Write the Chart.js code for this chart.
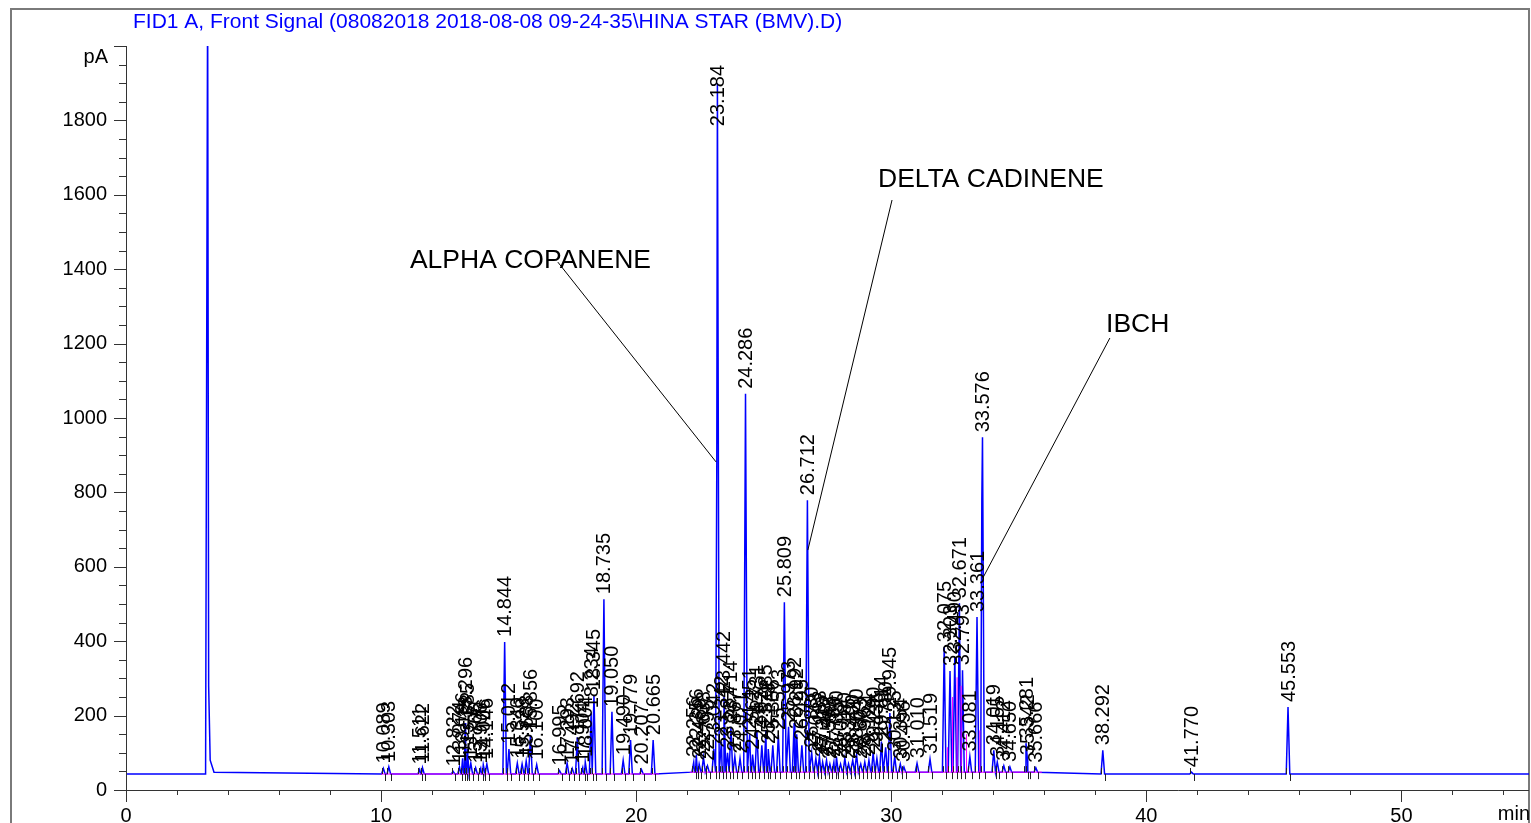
<!DOCTYPE html>
<html>
<head>
<meta charset="utf-8">
<script src="https://cdn.jsdelivr.net/npm/chart.js@4.4.1/dist/chart.umd.min.js"></script>
<style>
  html, body { margin: 0; padding: 0; background: #fff; }
  canvas { display: block; }
</style>
</head>
<body>
<canvas id="chromChart" width="1531" height="823"></canvas>
<script>
// retention times (min) of integrated peaks and their apex heights (pA)
const peakTimes = [
  10.089, 10.303, 11.511, 11.622, 12.822, 13.074, 13.196, 13.296, 13.385, 13.517,
  13.706, 13.906, 14.006, 14.146, 14.844, 15.012, 15.340, 15.528, 15.688, 15.856,
  16.100, 16.995, 17.293, 17.492, 17.692, 17.904, 18.004, 18.234, 18.345, 18.735,
  19.050, 19.490, 19.779, 20.207, 20.665, 22.256, 22.356, 22.469, 22.638, 22.795,
  23.042, 23.184, 23.342, 23.442, 23.581, 23.714, 23.867, 24.071, 24.286, 24.451,
  24.562, 24.731, 24.926, 25.085, 25.178, 25.356, 25.573, 25.809, 25.973, 26.192,
  26.292, 26.495, 26.712, 26.880, 27.043, 27.183, 27.310, 27.462, 27.593, 27.750,
  27.850, 28.012, 28.180, 28.325, 28.490, 28.640, 28.803, 28.962, 29.124, 29.290,
  29.436, 29.614, 29.780, 29.945, 30.135, 30.354, 30.496, 31.010, 31.519, 32.075,
  32.303, 32.490, 32.671, 32.793, 33.081, 33.361, 33.576, 34.019, 34.155, 34.412,
  34.650, 35.281, 35.342, 35.666, 38.292, 41.770, 45.553
];
const peakHeights = [
  58, 62, 55, 60, 50, 62, 85, 180, 110, 72,
  60, 58, 68, 70, 398, 110, 72, 70, 78, 148,
  68, 52, 72, 58, 142, 60, 75, 206, 255, 513,
  210, 80, 134, 55, 134, 75, 95, 70, 88, 65,
  110, 1900, 130, 250, 100, 170, 90, 85, 1065, 150,
  95, 160, 120, 160, 110, 120, 148, 505, 170, 180,
  150, 120, 779, 100, 85, 90, 75, 80, 70, 75,
  90, 70, 85, 70, 80, 95, 70, 75, 80, 100,
  85, 130, 115, 207, 90, 70, 62, 72, 83, 384,
  320, 357, 502, 322, 90, 465, 948, 107, 75, 65,
  62, 126, 80, 60, 107, 48, 223
];

// unlabeled shoulders on the two big peaks
const shoulderTimes = [23.160, 33.550];
const shoulderHeights = [880, 779];

// solvent front
const solventTimes = [3.12, 3.20, 3.24, 3.30, 3.45];
const solventValues = [43, 2150, 280, 80, 48];

// detector baseline levels: [from, to, pA]
const baselineSegments = [[0, 21.8, 43], [21.8, 36.2, 48], [36.2, 55, 43]];

// magenta integration baselines and drop lines
const pinkTimes = [10.0, 20.9, null, 22.1, 35.9];
const pinkValues = [43, 43, null, 48, 48];
const dropTimes = [32.20, 32.40, 32.58, 32.74, 32.95, 33.47];
const dropValues = [115, 250, 303, 280, 150, 160];

const xTickValues = [0, 10, 20, 30, 40, 50];
const yTickValues = [0, 200, 400, 600, 800, 1000, 1200, 1400, 1600, 1800];

const titleText = 'FID1 A, Front Signal (08082018 2018-08-08 09-24-35\\HINA STAR (BMV).D)';

// compound call-outs, positioned in data units
const callouts = [
  { text: 'ALPHA COPANENE', at: [11.13, 1403], from: [16.93, 1419], to: [23.13, 882] },
  { text: 'DELTA CADINENE', at: [29.48, 1621], from: [30.03, 1586], to: [26.73, 645] },
  { text: 'IBCH', at: [38.42, 1231], from: [38.57, 1215], to: [33.59, 570] }
];

const FONT = '"Liberation Sans", Arial, sans-serif';
const HALF_WIDTH = 0.07;

function baseAt(t) {
  const seg = baselineSegments.find(s => t >= s[0] && t < s[1]);
  return seg ? seg[2] : baselineSegments[baselineSegments.length - 1][2];
}

function buildTrace() {
  const pts = [{ x: 0, y: baseAt(0) }, { x: 55, y: baseAt(55) }];
  solventTimes.forEach((t, i) => pts.push({ x: t, y: solventValues[i] }));
  peakTimes.forEach((t, i) => {
    pts.push({ x: t - HALF_WIDTH, y: baseAt(t) });
    pts.push({ x: t, y: peakHeights[i] });
    pts.push({ x: t + HALF_WIDTH, y: baseAt(t) });
  });
  shoulderTimes.forEach((t, i) => pts.push({ x: t, y: shoulderHeights[i] }));
  return pts.sort((a, b) => a.x - b.x);
}

function buildPink() {
  return pinkTimes.map((t, i) => t === null ? { x: 21.5, y: null } : { x: t, y: pinkValues[i] });
}

function buildDrops() {
  const pts = [];
  dropTimes.forEach((t, i) => {
    pts.push({ x: t, y: baseAt(t) }, { x: t, y: dropValues[i] }, { x: t + 0.001, y: null });
  });
  return pts;
}

const decorPlugin = {
  id: 'decor',
  beforeDraw(chart) {
    const ctx = chart.ctx;
    ctx.save();
    ctx.fillStyle = '#fff';
    ctx.fillRect(0, 0, chart.width, chart.height);
    ctx.strokeStyle = '#7a7a7a';
    ctx.lineWidth = 2;
    ctx.strokeRect(11, 9, 1518, 830);
    ctx.fillStyle = '#0000ff';
    ctx.font = '21px ' + FONT;
    ctx.textBaseline = 'middle';
    ctx.fillText(titleText, 133, 22);
    ctx.restore();
  },
  afterDatasetsDraw(chart) {
    const ctx = chart.ctx;
    const xs = chart.scales.x, ys = chart.scales.y;
    const area = chart.chartArea;
    ctx.save();

    // axis lines and ticks
    ctx.strokeStyle = '#333';
    ctx.lineWidth = 1;
    ctx.beginPath();
    ctx.moveTo(area.left + 0.5, area.top);
    ctx.lineTo(area.left + 0.5, area.bottom);
    ctx.moveTo(area.left, area.bottom + 0.5);
    ctx.lineTo(area.right, area.bottom + 0.5);
    for (let v = 0; v <= 2000; v += 50) {
      const y = Math.round(ys.getPixelForValue(v)) + 0.5;
      const len = v % 200 === 0 ? 12 : 7;
      ctx.moveTo(area.left - len, y);
      ctx.lineTo(area.left, y);
    }
    for (let t = 0; t <= 54; t += 2) {
      const x = Math.round(xs.getPixelForValue(t)) + 0.5;
      const len = t % 10 === 0 ? 12 : 5;
      ctx.moveTo(x, area.bottom);
      ctx.lineTo(x, area.bottom + len);
    }
    ctx.stroke();

    ctx.fillStyle = '#000';
    ctx.font = '20px ' + FONT;
    ctx.textAlign = 'right';
    ctx.textBaseline = 'middle';
    ctx.fillText('pA', area.left - 18, ys.getPixelForValue(2000) + 11);
    ctx.textBaseline = 'top';
    ctx.fillText('min', area.right + 1, area.bottom + 14);

    // peak start / end markers
    ctx.strokeStyle = '#222';
    ctx.beginPath();
    peakTimes.forEach(t => {
      const yb = ys.getPixelForValue(baseAt(t));
      const x1 = Math.round(xs.getPixelForValue(t - 0.06)) + 0.5;
      const x2 = Math.round(xs.getPixelForValue(t + 0.08)) + 0.5;
      ctx.moveTo(x1, yb - 6);
      ctx.lineTo(x1, yb);
      ctx.moveTo(x2, yb);
      ctx.lineTo(x2, yb + 7);
    });
    ctx.stroke();

    // retention time labels, rotated
    ctx.textAlign = 'left';
    ctx.textBaseline = 'middle';
    peakTimes.forEach((t, i) => {
      const label = t.toFixed(3);
      const w = ctx.measureText(label).width;
      const x = xs.getPixelForValue(t) + 1;
      let start = ys.getPixelForValue(peakHeights[i]) - 5;
      if (start - w < area.top + 19) start = area.top + 19 + w;
      ctx.save();
      ctx.translate(x, start);
      ctx.rotate(-Math.PI / 2);
      ctx.fillText(label, 0, 0);
      ctx.restore();
    });

    // compound call-outs
    ctx.font = '26.5px ' + FONT;
    ctx.textBaseline = 'alphabetic';
    ctx.strokeStyle = '#000';
    callouts.forEach(c => {
      ctx.fillText(c.text, xs.getPixelForValue(c.at[0]), ys.getPixelForValue(c.at[1]));
      ctx.beginPath();
      ctx.moveTo(xs.getPixelForValue(c.from[0]), ys.getPixelForValue(c.from[1]));
      ctx.lineTo(xs.getPixelForValue(c.to[0]), ys.getPixelForValue(c.to[1]));
      ctx.stroke();
    });
    ctx.restore();
  }
};

const ctx = document.getElementById('chromChart').getContext('2d');
new Chart(ctx, {
  type: 'line',
  data: {
    datasets: [
      {
        data: buildPink(),
        borderColor: '#ff00ff',
        borderWidth: 1,
        pointRadius: 0,
        spanGaps: false,
        order: 0
      },
      {
        data: buildDrops(),
        borderColor: '#ff00ff',
        borderWidth: 1,
        pointRadius: 0,
        spanGaps: false,
        order: 0
      },
      {
        data: buildTrace(),
        borderColor: '#0000ff',
        borderWidth: 1.5,
        pointRadius: 0,
        tension: 0,
        order: 1
      }
    ]
  },
  options: {
    responsive: false,
    animation: false,
    devicePixelRatio: 1,
    layout: { padding: { top: 46, right: 2, left: 0, bottom: 0 } },
    plugins: { legend: { display: false }, tooltip: { enabled: false } },
    scales: {
      x: {
        type: 'linear',
        min: 0,
        max: 55,
        afterBuildTicks: s => { s.ticks = xTickValues.map(v => ({ value: v })); },
        afterFit: s => { s.height = 33; },
        grid: { display: false },
        border: { display: false },
        ticks: {
          color: '#000', font: { size: 20, family: FONT }, padding: 6, maxRotation: 0,
          callback: v => String(v)
        }
      },
      y: {
        min: 0,
        max: 2000,
        afterBuildTicks: s => { s.ticks = yTickValues.map(v => ({ value: v })); },
        afterFit: s => { s.width = 126; },
        grid: { display: false },
        border: { display: false },
        ticks: {
          color: '#000', font: { size: 20, family: FONT }, padding: 11,
          callback: v => String(v)
        }
      }
    }
  },
  plugins: [decorPlugin]
});
</script>
</body>
</html>
